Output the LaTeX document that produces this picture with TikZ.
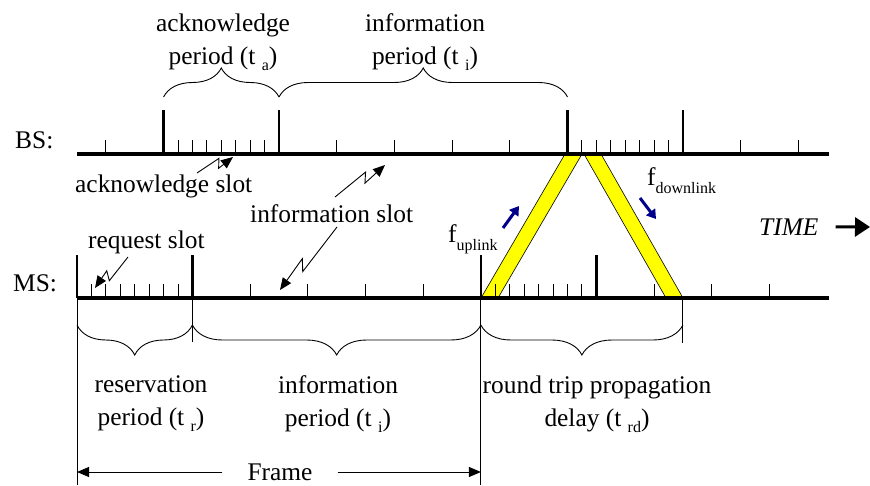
\documentclass[tikz,border=0pt]{standalone}
\usepackage{fontspec}
\setmainfont{Liberation Serif}
\usepackage{xcolor}
\usepackage{tikz}
\usetikzlibrary{arrows.meta,positioning,calc,decorations.pathreplacing}

\definecolor{bandyellow}{RGB}{255,255,0}
\definecolor{flownavy}{RGB}{0,0,140}
\newcommand{\tsub}[2][6pt]{\raisebox{-#1}{\fontsize{16}{16}\selectfont #2}}

\begin{document}
\begin{tikzpicture}[
    x=1pt, y=-1pt,
    font=\fontsize{25.4}{33}\selectfont,
    axis/.style = {line width=3.3pt},
    major/.style = {line width=2.8pt},
    minor/.style = {line width=0.9pt},
    delim/.style = {line width=0.9pt},
    upbrace/.style = {
        decorate,
        decoration={brace, amplitude=29pt},
        line width=0.9pt
    },
    downbrace/.style = {
        decorate,
        decoration={brace, mirror, amplitude=30pt},
        line width=0.9pt
    },
    band/.style = {fill=bandyellow, draw=black, line width=0.6pt},
    tag/.style = {inner sep=0pt, anchor=base west},
    period/.style = {inner sep=0pt, align=center},
    zap/.style = {
        -{Triangle[length=12pt,width=10pt]},
        line width=0.9pt,
        to path={-- ($(\tikztostart)!0.66!(\tikztotarget)!4.5pt!90:(\tikztotarget)$)
                 -- ($(\tikztostart)!0.55!(\tikztotarget)!4.5pt!-90:(\tikztotarget)$)
                 -- (\tikztotarget)}
    },
    flow/.style = {
        -{Triangle[length=9pt,width=11pt]},
        line width=3pt,
        draw=flownavy
    },
    span/.style = {-{Triangle[length=12pt,width=10pt]}, line width=0.9pt},
    timeline/.style = {-{Triangle[length=15pt,width=19pt]}, line width=3pt}
]
    \useasboundingbox (0,0) rectangle (870,485);

    % Propagation bands
    \draw[band] (481,298) -- (498,298) -- (582,154) -- (565,154) -- cycle;
    \draw[band] (584,154) -- (601,154) -- (683,298) -- (666,298) -- cycle;

    % BS time line
    \draw[axis] (77,154) -- (829,154);
    \foreach \k in {0,4,5,6,7,11,12}
        \draw[minor] ({105.9+\k*57.7},154) -- ++(0,-14);
    \foreach \k in {1,3,8,10}
        \draw[major] ({105.9+\k*57.7},154) -- ++(0,-44);
    \foreach \j in {1,...,7} {
        \draw[minor] ({163.6+\j*14.425},154) -- ++(0,-14);
        \draw[minor] ({567.5+\j*14.425},154) -- ++(0,-14);
    }

    % MS time line
    \draw[axis] (77,298) -- (829,298);
    \foreach \k in {3,4,5,6,10,11,12}
        \draw[minor] ({77+\k*57.7},298) -- ++(0,-14);
    \foreach \k in {0,2,7,9}
        \draw[major] ({77+\k*57.7},298) -- ++(0,-43);
    \foreach \j in {1,...,7} {
        \draw[minor] ({77+\j*14.425},298) -- ++(0,-14);
        \draw[minor] ({480.9+\j*14.425},298) -- ++(0,-14);
    }

    % Period delimiters below MS
    \draw[delim] (77,298) -- (77,485);
    \draw[delim] (192.4,298) -- (192.4,342);
    \draw[delim] (480.9,298) -- (480.9,485);
    \draw[delim] (682.9,298) -- (682.9,343);

    % Braces
    \draw[upbrace] (163.6,97) -- (279,97);
    \draw[upbrace] (279,97) -- (567.5,97);
    \draw[downbrace] (77,325) -- (192.4,325);
    \draw[downbrace] (192.4,325) -- (480.9,325);
    \draw[downbrace] (480.9,325) -- (682.9,325);

    % Node Definitions
    \node[tag] (bs) at (15,148) {BS:};
    \node[tag] (ms) at (13,291) {MS:};

    \node[period] (ack_period) at (223,42) {acknowledge\\period (t\ \tsub{a})};
    \node[period] (info_top) at (425,42) {information\\period (t\ \tsub{i})};

    \node[tag] (ack_slot) at (75,192) {acknowledge slot};
    \node[tag] (info_slot) at (250,222) {information slot};
    \node[tag] (req_slot) at (88,248) {request slot};

    \node[tag] (f_up) at (448,242) {f\tsub[8pt]{uplink}};
    \node[tag] (f_down) at (647,185) {f\tsub[8pt]{downlink}};
    \node[tag, font=\fontsize{25.4}{33}\selectfont\itshape] (time) at (759,235) {TIME};

    \node[period] (res_period) at (151,404) {reservation\\period (t\ \tsub{r})};
    \node[period] (info_bot) at (338,404) {information\\period (t\ \tsub{i})};
    \node[period] (rtd) at (597,404) {round trip propagation\\delay (t\ \tsub{rd})};

    \node[inner xsep=25pt, inner ysep=0pt] (frame) at (280,472) {Frame};

    % Coordinates for arrow ends
    \coordinate (ackS) at (197,173);
    \coordinate (ackE) at (233,157);
    \coordinate (infoUpS) at (335,197);
    \coordinate (infoUpE) at (385,165);
    \coordinate (infoDnS) at (337,227);
    \coordinate (infoDnE) at (280,290);
    \coordinate (reqS) at (128,257);
    \coordinate (reqE) at (95,288);
    \coordinate (upS) at (503,228);
    \coordinate (upE) at (519,206);
    \coordinate (dnS) at (640,198);
    \coordinate (dnE) at (656,219);
    \coordinate (timeEnd) at (870,227);
    \coordinate (frameL) at (77,472);
    \coordinate (frameR) at (480.9,472);

    % Arrows connecting nodes
    \draw[zap] (ackS) to (ackE);
    \draw[zap] (infoUpS) to (infoUpE);
    \draw[zap] (infoDnS) to (infoDnE);
    \draw[zap] (reqS) to (reqE);
    \draw[flow] (upS) -- (upE);
    \draw[flow] (dnS) -- (dnE);
    \draw[timeline, shorten <=17pt] (time) -- (timeEnd);
    \draw[span] (frame) -- (frameL);
    \draw[span] (frame) -- (frameR);

\end{tikzpicture}
\end{document}
